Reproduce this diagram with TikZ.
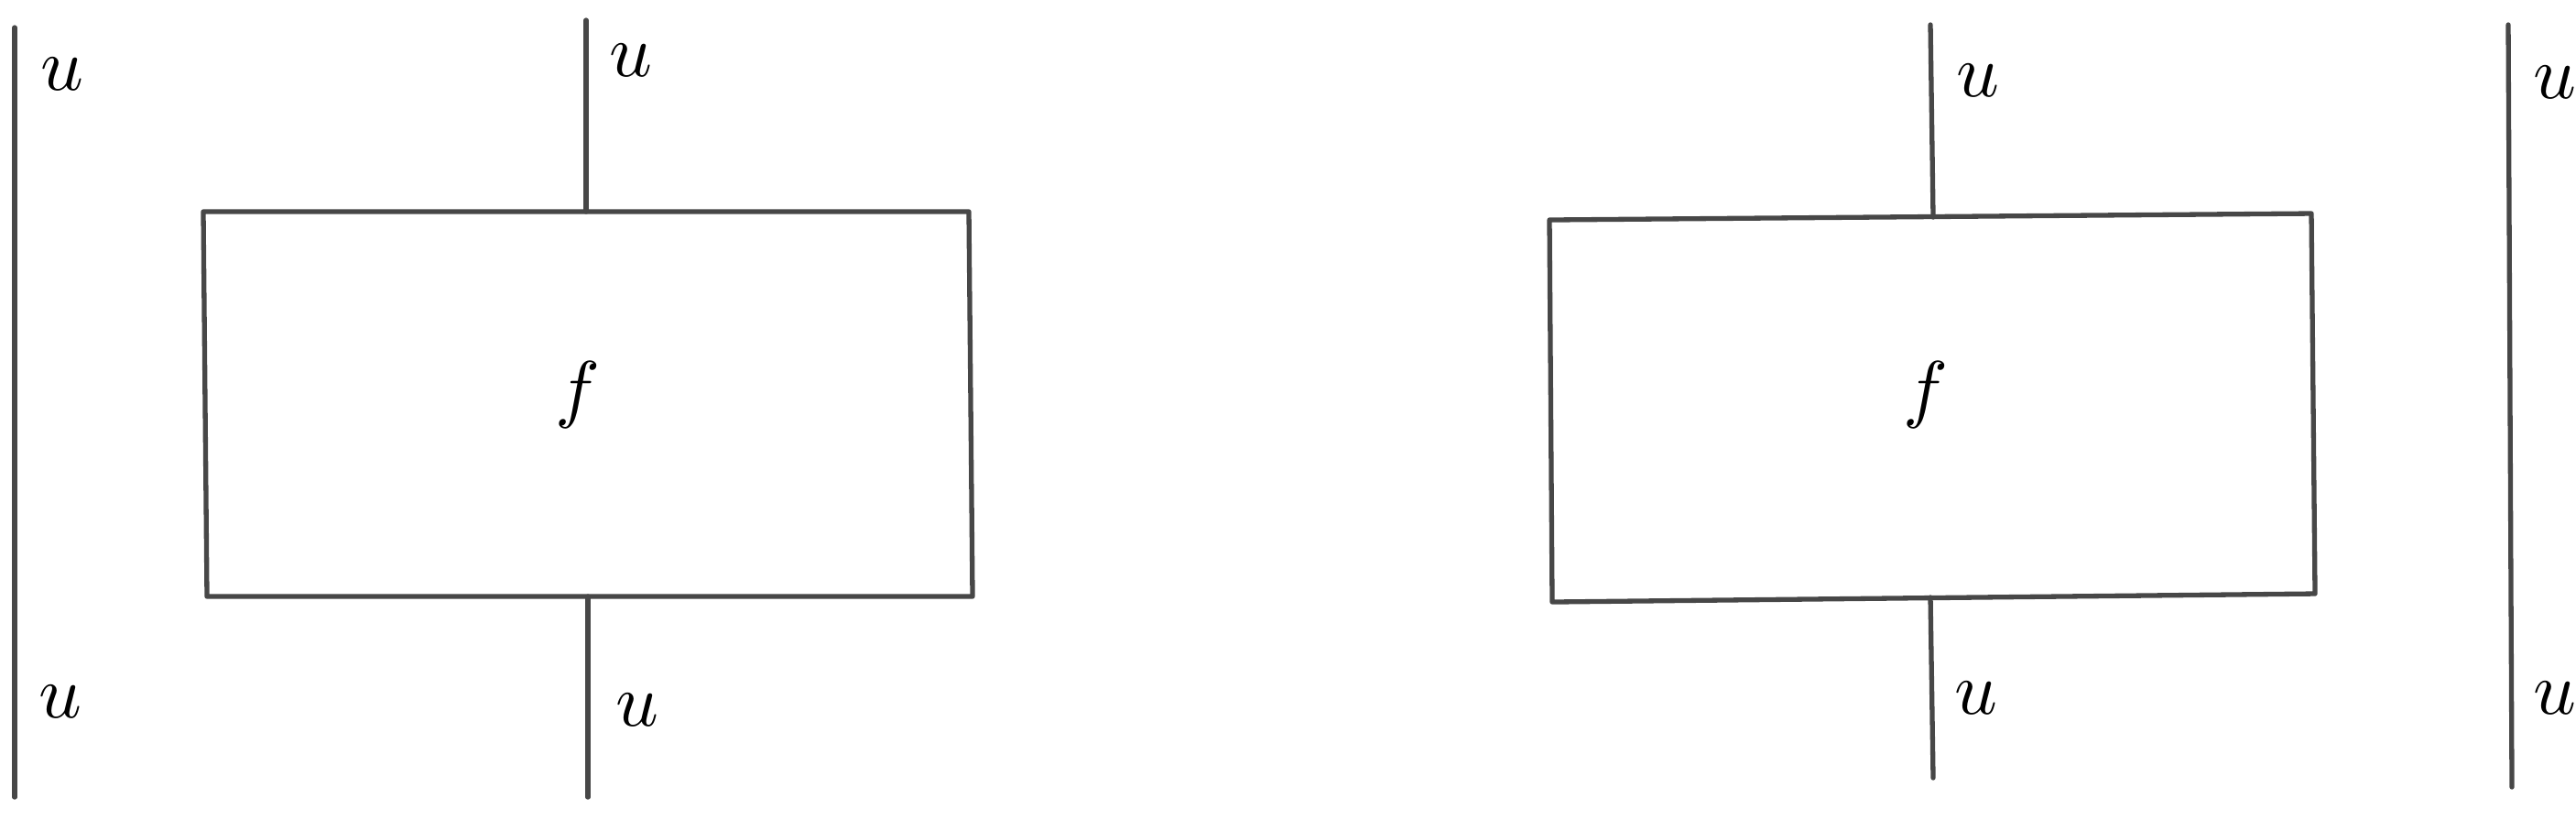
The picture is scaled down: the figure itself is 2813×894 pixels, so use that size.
\documentclass[tikz,border=0pt]{standalone}
\begin{document}
\begin{tikzpicture}[x=0.1282pt,y=-0.1282pt,
  wire/.style={draw=black!72,line width=0.68pt,line cap=round},
  boxline/.style={draw=black!72,line width=0.68pt,line join=round},
  lab/.style={inner sep=0pt,scale=1.05}]
\useasboundingbox (0,0) rectangle (2813,894);
% left panel
\coordinate (lwT) at (16,30);
\coordinate (lwB) at (16,870);
\draw[wire] (lwT) -- (lwB);
\node[lab] (ul1) at (68,81) {$u$};
\node[lab] (ul2) at (66,766) {$u$};
\coordinate (a1) at (222,231);
\coordinate (a2) at (1058,231);
\coordinate (a3) at (1062,651);
\coordinate (a4) at (226,651);
\draw[boxline] (a1) -- (a2) -- (a3) -- (a4) -- cycle;
\node[lab] (f1) at (631,431) {$f$};
\coordinate (t1) at (640,22);
\coordinate (t1b) at (640,231);
\coordinate (b1t) at (642,651);
\coordinate (b1) at (642,870);
\draw[wire] (t1) -- (t1b);
\draw[wire] (b1t) -- (b1);
\node[lab] (ut1) at (689,66) {$u$};
\node[lab] (ub1) at (696,775) {$u$};
% right panel
\coordinate (c1) at (1692,240);
\coordinate (c2) at (2524,233);
\coordinate (c3) at (2528,648);
\coordinate (c4) at (1695,657);
\draw[boxline] (c1) -- (c2) -- (c3) -- (c4) -- cycle;
\node[lab] (f2) at (2103,431) {$f$};
\coordinate (t2) at (2108,27);
\coordinate (t2b) at (2111,237);
\coordinate (b2t) at (2108,652);
\coordinate (b2) at (2111,849);
\draw[wire] (t2) -- (t2b);
\draw[wire] (b2t) -- (b2);
\node[lab] (ut2) at (2160,88) {$u$};
\node[lab] (ub2) at (2158,762) {$u$};
\coordinate (rwT) at (2739,27);
\coordinate (rwB) at (2743,859);
\draw[wire] (rwT) -- (rwB);
\node[lab] (ur1) at (2790,90) {$u$};
\node[lab] (ur2) at (2790,762) {$u$};
\end{tikzpicture}
\end{document}
